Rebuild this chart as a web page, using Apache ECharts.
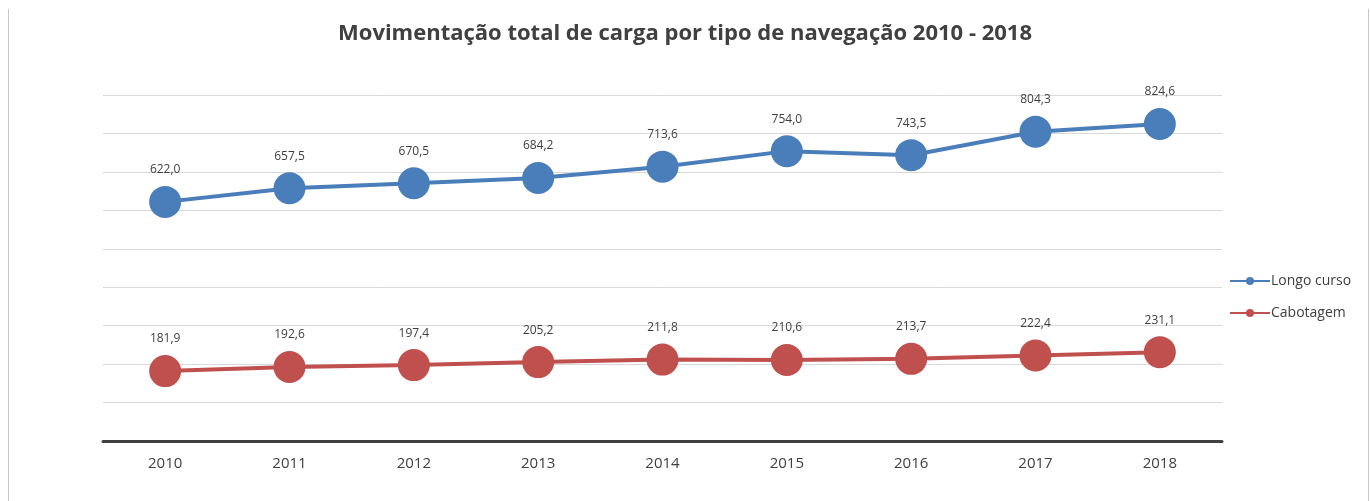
<!DOCTYPE html>
<html>
<head>
<meta charset="utf-8">
<script src="https://cdn.jsdelivr.net/npm/echarts@6/dist/echarts.min.js"></script>
<style>
  html, body { margin: 0; padding: 0; background: #fff; }
  #chart { width: 1370px; height: 501px; position: relative; }
  .frame { position: absolute; top: 9px; bottom: 0; left: 8px; right: 1px; border-left: 1px solid #c8c8c8; border-right: 1px solid #c8c8c8; pointer-events: none; z-index: 5; }
</style>
</head>
<body>
<div id="chart"></div>
<div class="frame"></div>
<script>
  const years = ['2010', '2011', '2012', '2013', '2014', '2015', '2016', '2017', '2018']
  const longoCurso = [622.0, 657.5, 670.5, 684.2, 713.6, 754.0, 743.5, 804.3, 824.6]
  const cabotagem = [181.9, 192.6, 197.4, 205.2, 211.8, 210.6, 213.7, 222.4, 231.1]

  const chart = echarts.init(document.getElementById('chart'))

  const fmt = (p) => p.value.toFixed(1).replace('.', ',')

  const makeSeries = (name, data, color) => ({
    name: name,
    type: 'line',
    data: data,
    symbol: 'circle',
    symbolSize: 32,
    lineStyle: { width: 4, color: color },
    itemStyle: { color: color },
    label: {
      show: true,
      position: 'top',
      distance: 10,
      formatter: fmt,
      color: '#404040',
      fontSize: 12,
      fontFamily: 'Open Sans'
    }
  })

  chart.setOption({
    title: {
      text: 'Movimentação total de carga por tipo de navegação 2010 - 2018',
      left: 'center',
      top: 18,
      textStyle: {
        fontFamily: 'Open Sans',
        fontSize: 22,
        fontWeight: 'bold',
        color: '#404040'
      }
    },
    legend: {
      orient: 'vertical',
      left: 1224,
      top: 269,
      itemWidth: 40,
      itemHeight: 10,
      itemGap: 18,
      textStyle: { color: '#404040', fontSize: 14, fontFamily: 'Open Sans', padding: [0, 0, 0, -4] },
      data: ['Longo curso', 'Cabotagem']
    },
    grid: { left: 103, right: 148, top: 95, bottom: 60 },
    xAxis: {
      type: 'category',
      data: years,
      boundaryGap: true,
      axisLine: { lineStyle: { color: '#404040', width: 3 } },
      axisTick: { show: false },
      axisLabel: { color: '#404040', fontSize: 15, fontFamily: 'Open Sans', margin: 15 }
    },
    yAxis: {
      type: 'value',
      min: 0,
      max: 900,
      interval: 100,
      axisLine: { show: false },
      axisTick: { show: false },
      axisLabel: { show: false },
      splitLine: { lineStyle: { color: '#d9d9d9', width: 1 } }
    },
    series: [
      makeSeries('Longo curso', longoCurso, '#4a7ebb'),
      makeSeries('Cabotagem', cabotagem, '#c0504d')
    ]
  })
</script>
</body>
</html>
